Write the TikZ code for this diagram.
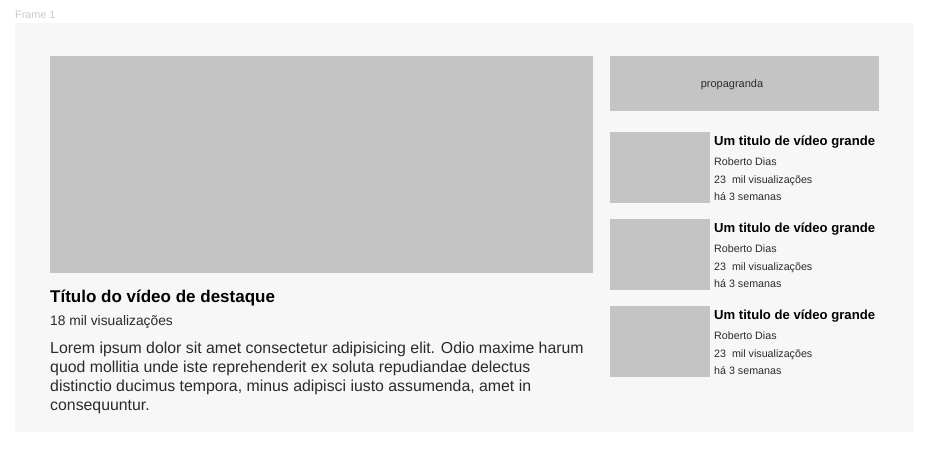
\documentclass[tikz,border=0pt]{standalone}
\usepackage{fontspec}
\setmainfont{Liberation Sans}
\definecolor{framebg}{HTML}{F7F7F7}
\definecolor{boxgray}{HTML}{C4C4C4}
\definecolor{labelgray}{HTML}{CCCCCC}
\definecolor{txtgray}{HTML}{2B2B2B}

\begin{document}
\begin{tikzpicture}[x=1pt,y=-1pt,
    placeholder/.style={fill=boxgray, draw=none, inner sep=0pt, anchor=north west},
    txt/.style={inner sep=0pt, anchor=base west},
    cardtitle/.style={txt, font=\fontsize{13.1}{16}\selectfont\bfseries},
    cardmeta/.style={txt, font=\fontsize{10.7}{13}\selectfont, text=txtgray}]
  \useasboundingbox (0,0) rectangle (943,452);
  \fill[white] (0,0) rectangle (943,452);

  % frame
  \node[txt, font=\fontsize{10.8}{12}\selectfont, text=labelgray] (framelabel) at (15,19) {Frame 1};
  \fill[framebg] (15,23) rectangle (914,432);

  % featured video
  \node[placeholder, minimum width=543pt, minimum height=217pt] (video) at (50,56) {};
  \node[txt, font=\fontsize{17}{21}\selectfont\bfseries] (vtitle) at (50,302) {Título do vídeo de destaque};
  \node[txt, font=\fontsize{13.8}{16}\selectfont, text=txtgray] (vviews) at (50,325) {18 mil visualizações};
  \node[inner sep=0pt, anchor=north west, align=left, text=txtgray,
        font=\fontsize{15.85}{19}\selectfont] (vdesc) at (50,342)
    {Lorem ipsum dolor sit amet consectetur adipisicing elit. Odio maxime harum\\
     quod mollitia unde iste reprehenderit ex soluta repudiandae delectus\\
     distinctio ducimus tempora, minus adipisci iusto assumenda, amet in\\
     consequuntur.};

  % ad
  \node[placeholder, minimum width=269pt, minimum height=55pt] (ad) at (610,56) {};
  \node[txt, anchor=base, font=\fontsize{11}{13}\selectfont, text=txtgray] (adlabel) at (732,88) {propagranda};

  % side videos
  \foreach \i/\y in {1/132, 2/219, 3/306} {
    \node[placeholder, minimum width=100pt, minimum height=71pt] (thumb\i) at (610,\y) {};
    \node[cardtitle] (ctitle\i) at (714,{\y+13}) {Um titulo de vídeo grande};
    \node[cardmeta] (cauthor\i) at (714,{\y+33}) {Roberto Dias};
    \node[cardmeta] (cviews\i) at (714,{\y+51}) {23\ \ mil visualizações};
    \node[cardmeta] (cdate\i) at (714,{\y+68}) {há 3 semanas};
  }
\end{tikzpicture}
\end{document}
